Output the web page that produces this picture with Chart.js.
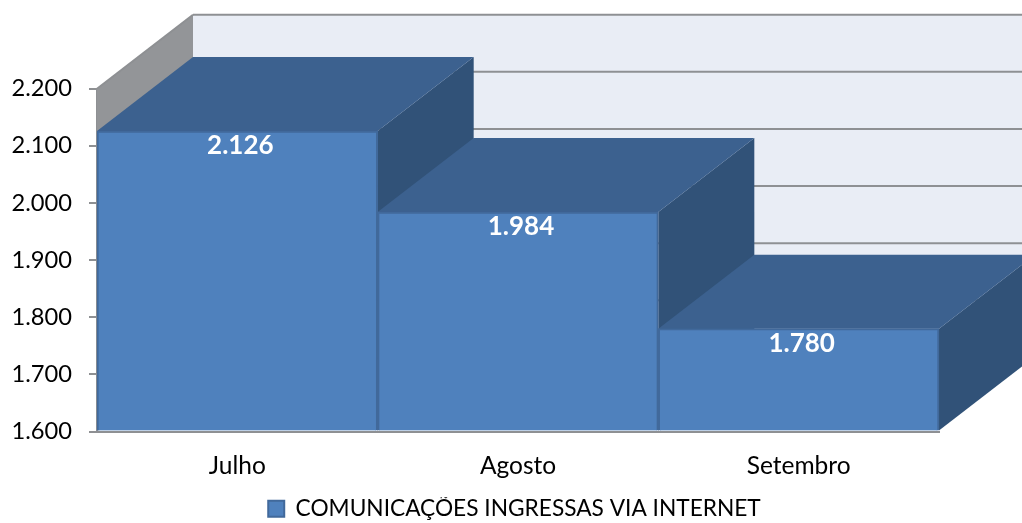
<!DOCTYPE html>
<html>
<head>
<meta charset="utf-8">
<script src="https://cdn.jsdelivr.net/npm/chart.js@4"></script>
<style>
    html, body { margin: 0; background: #fff; }
    canvas { display: block; }
</style>
</head>
<body>
<canvas id="myChart" width="1022" height="523"></canvas>
<script>
const categories = ["Julho", "Agosto", "Setembro"];
const seriesName = "COMUNICAÇÕES INGRESSAS VIA INTERNET";
const seriesValues = [2126, 1984, 1780];
const yMin = 1600;
const yMax = 2200;
const yStep = 100;

const font = "Lato";
const depthX = 96;
const depthY = 74;

const formatNumber = (v) => String(v).replace(/\B(?=(\d{3})+$)/g, ".");

function poly(c, pts, fill) {
    c.beginPath();
    pts.forEach((p, i) => (i ? c.lineTo(p[0], p[1]) : c.moveTo(p[0], p[1])));
    c.closePath();
    c.fillStyle = fill;
    c.fill();
}

// walls, gridlines and the side/top faces of the bars, drawn behind the front faces
const box3d = {
    id: "box3d",
    afterLayout(chart) {
        // the legend is centred under the bars plus their depth, not under the plot
        chart.legend.left += 45;
        chart.legend.right += 45;
        chart.legend.top += 7;
        chart.legend.bottom += 7;
    },
    beforeDatasetsDraw(chart) {
        const c = chart.ctx;
        const { left, right, top, bottom } = chart.chartArea;
        const y = chart.scales.y;

        c.save();
        poly(c, [[left + depthX, top - depthY], [right + depthX, top - depthY], [right + depthX, bottom - depthY], [left + depthX, bottom - depthY]], "#e9edf5");
        poly(c, [[left, top], [left + depthX, top - depthY], [left + depthX, bottom - depthY], [left, bottom]], "#939598");

        c.strokeStyle = "#8e9093";
        c.lineWidth = 2;
        for (let v = yMin; v <= yMax; v += yStep) {
            const py = y.getPixelForValue(v) - depthY;
            c.beginPath();
            c.moveTo(left + depthX, py);
            c.lineTo(right + depthX, py);
            c.stroke();
        }
        c.beginPath();
        c.moveTo(left, top);
        c.lineTo(left + depthX, top - depthY);
        c.stroke();

        chart.getDatasetMeta(0).data.forEach((bar) => {
            const l = bar.x - bar.width / 2;
            const r = bar.x + bar.width / 2;
            const t = bar.y;
            const b = bar.base;
            poly(c, [[r, t], [r + depthX, t - depthY], [r + depthX, b - depthY], [r, b]], "#315278");
            poly(c, [[l, t], [l + depthX, t - depthY], [r + depthX, t - depthY], [r, t]], "#3c618f");
        });
        c.restore();
    },
    afterDatasetsDraw(chart) {
        const c = chart.ctx;
        c.save();
        c.font = `bold 26px ${font}`;
        c.fillStyle = "#fff";
        c.textAlign = "center";
        c.textBaseline = "middle";
        chart.getDatasetMeta(0).data.forEach((bar, i) => {
            c.fillText(formatNumber(seriesValues[i]), bar.x + 3, bar.y + 15);
        });
        c.restore();
    },
};

new Chart(document.getElementById("myChart"), {
    type: "bar",
    data: {
        labels: categories,
        datasets: [
            {
                label: seriesName,
                data: seriesValues,
                base: yMin,
                backgroundColor: "#4f81bd",
                borderColor: "#41699b",
                borderWidth: 2,
                barPercentage: 1,
                categoryPercentage: 1,
                clip: false,
            },
        ],
    },
    plugins: [box3d],
    options: {
        responsive: false,
        animation: false,
        layout: { padding: { top: 88.7, right: 83, left: 0, bottom: 0 } },
        plugins: {
            tooltip: { enabled: false },
            legend: {
                position: "bottom",
                labels: {
                    boxWidth: 16,
                    boxHeight: 16,
                    color: "#000",
                    font: { family: font, size: 22.7 },
                    padding: 0,
                },
            },
        },
        scales: {
            x: {
                afterFit: (s) => { s.height = 58.8; },
                grid: { display: false, drawTicks: false },
                border: { display: true, color: "#8e9093", width: 2 },
                ticks: { color: "#000", font: { family: font, size: 24.5 }, padding: 20 },
            },
            y: {
                min: yMin,
                max: yMax,
                afterFit: (s) => { s.width = 97; },
                grid: { drawOnChartArea: false, color: "#8e9093", lineWidth: 2, tickLength: 8 },
                border: { display: true, color: "#8e9093", width: 2 },
                ticks: {
                    stepSize: yStep,
                    color: "#000",
                    font: { family: font, size: 23.7 },
                    padding: 17,
                    callback: (v) => formatNumber(v),
                },
            },
        },
    },
});
</script>
</body>
</html>
